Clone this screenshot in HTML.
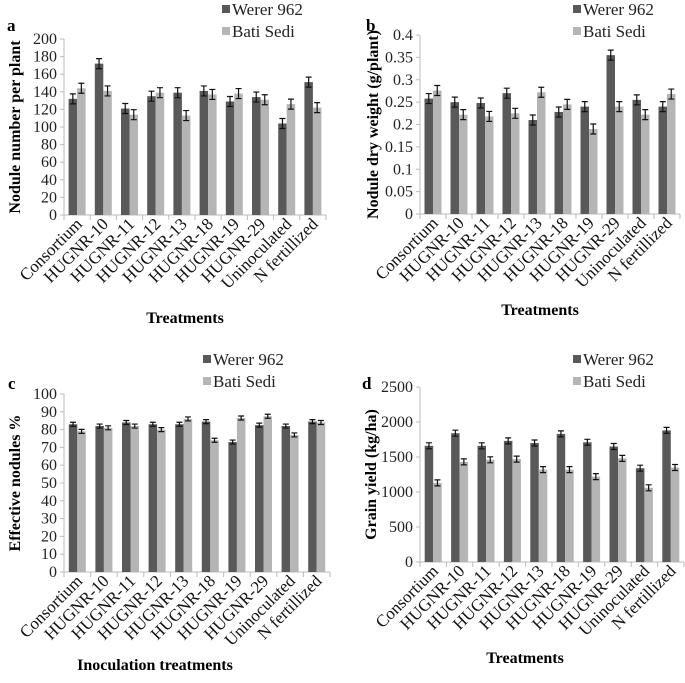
<!DOCTYPE html>
<html><head><meta charset="utf-8"><style>
body{margin:0;background:#fff;}
svg, svg text{font-family:"Liberation Serif","Times New Roman",serif;}
</style></head><body>
<svg id="c" width="685" height="678" font-family="Liberation Serif, serif"></svg>
<script>
const categories=["Consortium","HUGNR-10","HUGNR-11","HUGNR-12","HUGNR-13","HUGNR-18","HUGNR-19","HUGNR-29","Uninoculated","N fertillized"];
const aWerer=[132,172,121,135,139,141,129,134,104,151];
const aBati=[144,141,114,139,113,137,138,131,126,122];
const bWerer=[0.258,0.25,0.248,0.27,0.21,0.228,0.24,0.355,0.255,0.24];
const bBati=[0.276,0.222,0.218,0.225,0.272,0.245,0.19,0.24,0.222,0.268];
const cWerer=[83,82,84,83,83,84.5,73,82.5,82,84.5];
const cBati=[79,81,82,80,86,74,86.5,87.5,77,84];
const dWerer=[1660,1840,1660,1730,1700,1830,1710,1650,1340,1880];
const dBati=[1130,1430,1460,1470,1320,1320,1220,1480,1060,1350];
const aTicks=[0,20,40,60,80,100,120,140,160,180,200];
const bTicks=[0,0.05,0.1,0.15,0.2,0.25,0.3,0.35,0.4];
const cTicks=[0,10,20,30,40,50,60,70,80,90,100];
const dTicks=[0,500,1000,1500,2000,2500];
const bTickLabels=["0","0.05","0.1","0.15","0.2","0.25","0.3","0.35","0.4"];
const svg=document.getElementById('c');
const NS='http://www.w3.org/2000/svg';
function mk(tag,attrs,parent){const e=document.createElementNS(NS,tag);for(const k in attrs)e.setAttribute(k,attrs[k]);if(tag==='text')e.setAttribute('font-family','Liberation Serif, serif');(parent||svg).appendChild(e);return e;}
function panel(p){
  const g=mk('g',{});
  
  
  const ymax=p.ticks[p.ticks.length-1];
  const ys=v=>p.y0-(v/ymax)*(p.y0-p.y1);
  const bw=(p.x1-p.x0)/categories.length;
  const xs=i=>p.x0+(i+0.5)*bw;
  const ya=mk('line',{x1:p.x0,y1:p.y1,x2:p.x0,y2:p.y0,stroke:'#bbb','stroke-width':1},g);
  
  const xa=mk('line',{x1:p.x0,y1:p.y0,x2:p.x1,y2:p.y0,stroke:'#bbb','stroke-width':1},g);
  
  p.ticks.forEach((t,i)=>{
    const y=ys(t);
    mk('line',{x1:p.x0-4,y1:y,x2:p.x0,y2:y,stroke:'#bbb'},g);
    const tx=mk('text',{x:p.x0-7,y:y+5,'text-anchor':'end','font-size':16,fill:'#222'},g);
    tx.textContent=p.labels?p.labels[i]:t;
    
  });
  for(let i=0;i<=categories.length;i++){const x=p.x0+i*bw;mk('line',{x1:x,y1:p.y0,x2:x,y2:p.y0+5,stroke:'#bbb'},g);}
  categories.forEach((c,i)=>{
    const x=xs(i);
    [[p.w[i],'#595959',-8.5,'bar-werer-'+i],[p.b[i],'#b5b5b5',0,'bar-bati-'+i]].forEach(([v,col,off,nm])=>{
      const r=mk('rect',{x:x+off,y:ys(v),width:8.5,height:p.y0-ys(v),fill:col},g);
      
      const e=p.err, cx=x+off+4.25, y=ys(v);
      mk('path',{d:`M${cx-3},${y-e}H${cx+3}M${cx},${y-e}V${y+e}M${cx-3},${y+e}H${cx+3}`,stroke:'#111','stroke-width':1.2,fill:'none'},g);
    });
    const lx=x+6, ly=p.y0+10;
    const t=mk('text',{x:lx,y:ly,'text-anchor':'end','font-size':17,fill:'#111',transform:`rotate(-45 ${lx} ${ly})`},g);
    t.textContent=c;
    
  });
  const lab=mk('text',{x:p.lx,y:p.ly,'font-size':17,'font-weight':'bold'},g);lab.textContent=p.id;
  
  const yt=mk('text',{x:p.ytx,y:(p.y0+p.y1)/2,'text-anchor':'middle','font-size':16,'font-weight':'bold',transform:`rotate(-90 ${p.ytx} ${(p.y0+p.y1)/2})`},g);
  yt.textContent=p.ytitle;
  const xt=mk('text',{x:p.xtx,y:p.xty,'text-anchor':'middle','font-size':16,'font-weight':'bold'},g);
  xt.textContent=p.xtitle;
  [['Werer 962','#595959',p.legy],['Bati Sedi','#b5b5b5',p.legy+22]].forEach(([n,col,y])=>{
    const r=mk('rect',{x:p.legx,y:y-10,width:8,height:8,fill:col},g);
    
    const t=mk('text',{x:p.legx+10,y:y,'font-size':17,fill:'#222'},g);t.textContent=n;
    
  });
}
panel({id:'a',x0:64,x1:326,y0:215,y1:39,ticks:aTicks,w:aWerer,b:aBati,err:5,lx:7,ly:31,ytx:20,ytitle:'Nodule number per plant',xtx:185,xty:323,xtitle:'Treatments',legx:222,legy:15});
panel({id:'b',x0:420,x1:680,y0:214,y1:35,ticks:bTicks,labels:bTickLabels,w:bWerer,b:bBati,err:5,lx:366,ly:31,ytx:378,ytitle:'Nodule dry weight (g/plant)',xtx:540,xty:315,xtitle:'Treatments',legx:573,legy:15});
panel({id:'c',x0:64,x1:330,y0:572,y1:394,ticks:cTicks,w:cWerer,b:cBati,err:2,lx:8,ly:389,ytx:20,ytitle:'Effective nodules %',xtx:155,xty:670,xtitle:'Inoculation treatments',legx:203,legy:365});
panel({id:'d',x0:420,x1:684,y0:562,y1:387,ticks:dTicks,w:dWerer,b:dBati,err:3,lx:362,ly:389,ytx:376,ytitle:'Grain yield (kg/ha)',xtx:525,xty:663,xtitle:'Treatments',legx:573,legy:365});
</script>
</body></html>
